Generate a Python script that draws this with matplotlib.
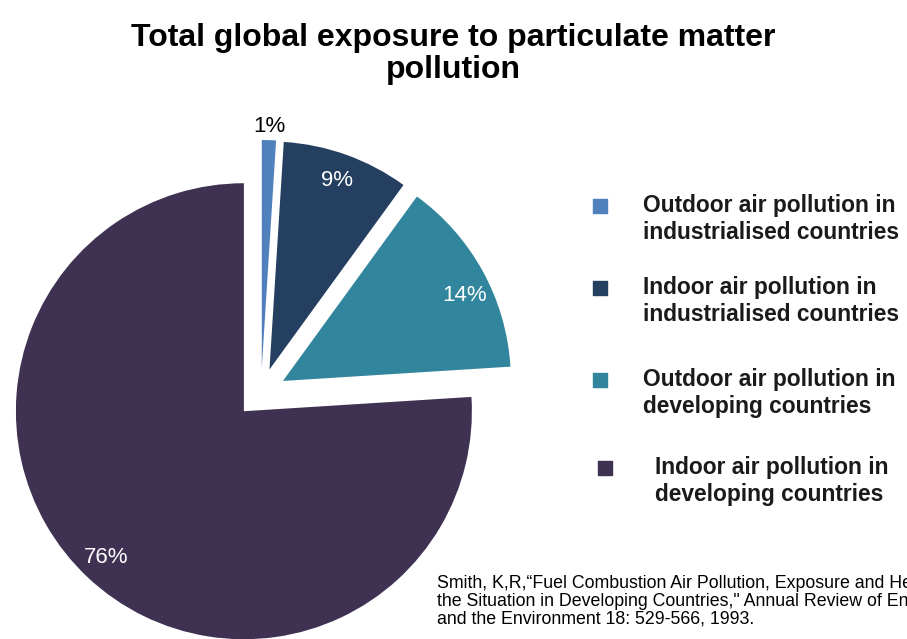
import numpy as np
import matplotlib.pyplot as plt

# shares of global exposure (percent)
labels = ['Outdoor air pollution in\nindustrialised countries',
          'Indoor air pollution in\nindustrialised countries',
          'Outdoor air pollution in\ndeveloping countries',
          'Indoor air pollution in\ndeveloping countries']
shares = [1, 9, 14, 76]
colors = ['#4F81BD', '#243F60', '#31859C', '#3F3151']

plt.rcParams['font.family'] = ['Liberation Sans', 'DejaVu Sans']

W, H = 907, 639
fig = plt.figure(figsize=(W / 100, H / 100), dpi=100)
ax = fig.add_axes([0, 0, 1, 1])

R = 228  # pie radius in pixels
gap = 25  # explode offset in pixels
wedges, texts, autotexts = ax.pie(shares, colors=colors, startangle=90, counterclock=False,
                                  center=(261, H - 393), radius=R,
                                  explode=[gap] * 4, autopct='%.0f%%', pctdistance=0.88,
                                  textprops={'fontsize': 16, 'color': 'white'})
ax.set_xlim(0, W)
ax.set_ylim(0, H)
ax.axis('off')

# first label sits outside the thin slice, third a bit lower than the mid angle
for i, (r, dang) in {0: (1.06, 0), 2: (0.88, -3.5)}.items():
    w = wedges[i]
    mid = np.deg2rad((w.theta1 + w.theta2) / 2 + dang)
    autotexts[i].set_position((w.center[0] + r * R * np.cos(mid), w.center[1] + r * R * np.sin(mid)))
autotexts[0].set_color('black')

fig.text(0.5, 1 - 54 / H, 'Total global exposure to particulate matter\npollution',
         ha='center', va='center', fontsize=23, fontweight='bold', linespacing=1.05)

# hand-placed legend
leg_rows = [(600, 643, 219), (600, 643, 301), (600, 643, 393), (605, 655, 481)]
for (sx, tx, ty), lab, c in zip(leg_rows, labels, colors):
    ax.scatter([sx], [H - ty + 13], marker='s', s=110, color=c)
    ax.text(tx, H - ty, lab, ha='left', va='center', fontsize=16.4, fontweight='bold',
            color='#1a1a1a', linespacing=1.2)

fig.text(437 / W, 1 - 601 / H,
         'Smith, K,R,\u201cFuel Combustion Air Pollution, Exposure and Health:\n'
         'the Situation in Developing Countries," Annual Review of Energy\n'
         'and the Environment 18: 529-566, 1993.',
         ha='left', va='center', fontsize=12.8, linespacing=1.05)

fig.savefig('out.png', dpi=100)
